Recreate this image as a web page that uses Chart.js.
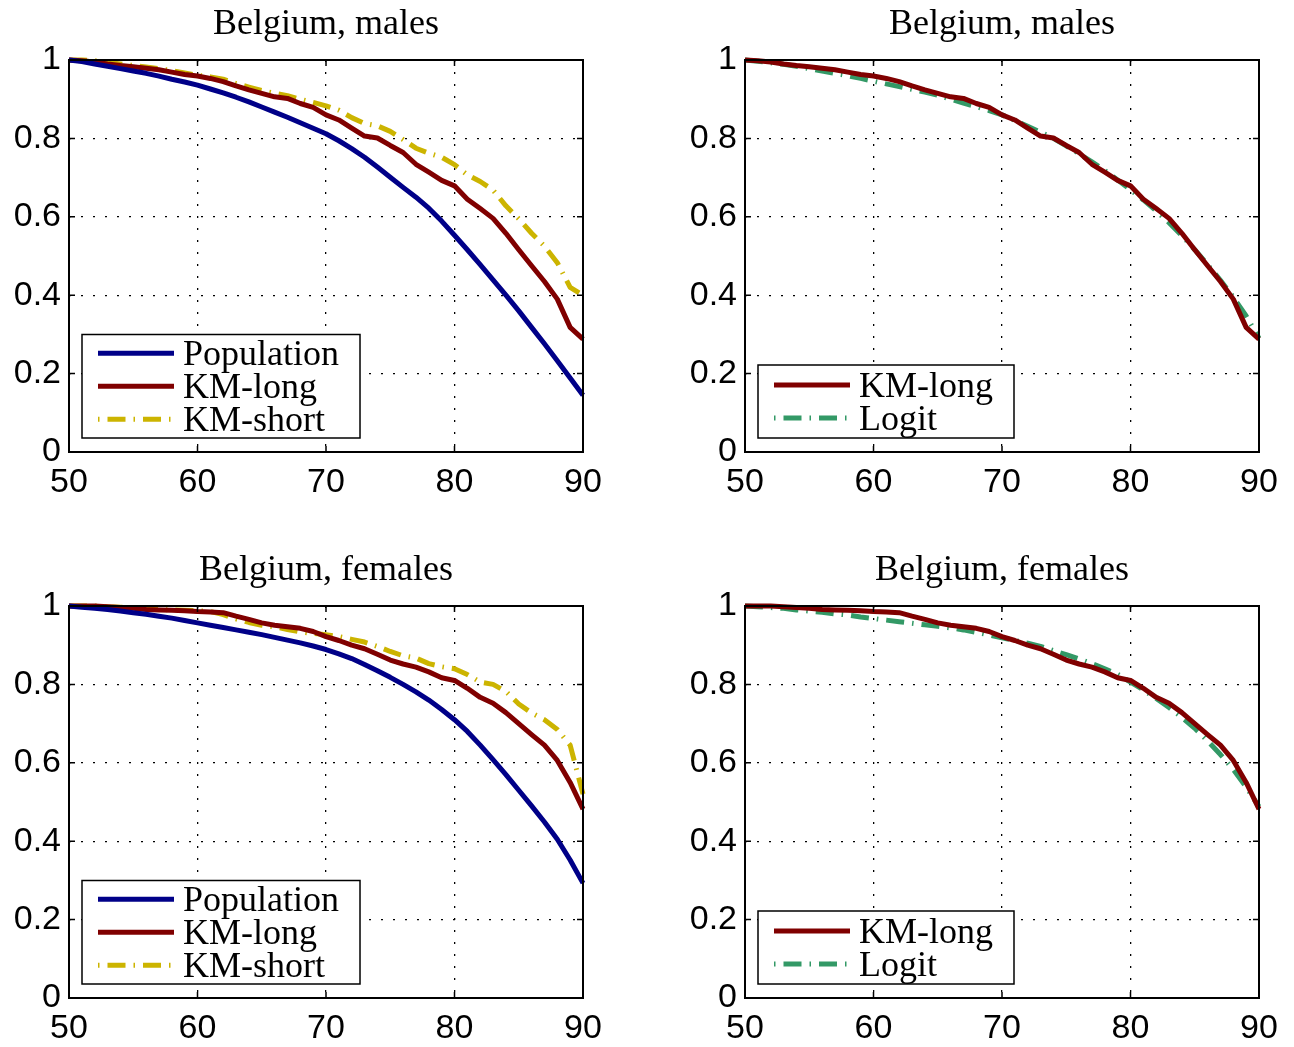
<!DOCTYPE html>
<html>
<head>
<meta charset="utf-8">
<script src="https://cdn.jsdelivr.net/npm/chart.js@4.4.1/dist/chart.umd.min.js"></script>
<style>
  html, body { margin: 0; padding: 0; background: #fff; overflow: hidden; }
  canvas { position: absolute; }
</style>
</head>
<body>
<canvas id="maleKM" width="647" height="500" style="left:0;top:0"></canvas>
<canvas id="maleLogit" width="618" height="500" style="left:676px;top:0"></canvas>
<canvas id="femaleKM" width="647" height="500" style="left:0;top:546px"></canvas>
<canvas id="femaleLogit" width="618" height="500" style="left:676px;top:546px"></canvas>
<script>
// ages 50..90, one value per year
const ages = [50, 51, 52, 53, 54, 55, 56, 57, 58, 59, 60, 61, 62, 63, 64, 65, 66, 67, 68, 69, 70,
              71, 72, 73, 74, 75, 76, 77, 78, 79, 80, 81, 82, 83, 84, 85, 86, 87, 88, 89, 90];

const xTicks = [50, 60, 70, 80, 90];
const yTicks = [0, 0.2, 0.4, 0.6, 0.8, 1];

// males
const popMale = [1.0, 0.996, 0.99, 0.984, 0.978, 0.972, 0.966, 0.959, 0.951, 0.944, 0.936,
                 0.926, 0.916, 0.905, 0.893, 0.88, 0.867, 0.854, 0.84, 0.826, 0.812,
                 0.794, 0.774, 0.752, 0.727, 0.701, 0.675, 0.65, 0.622, 0.589, 0.553,
                 0.516, 0.478, 0.439, 0.40, 0.36, 0.318, 0.276, 0.233, 0.189, 0.145];
const kmLongMale = [1.0, 0.998, 0.995, 0.99, 0.986, 0.983, 0.979, 0.975, 0.969, 0.963, 0.959,
                    0.953, 0.945, 0.934, 0.924, 0.915, 0.906, 0.902, 0.889, 0.879, 0.86,
                    0.847, 0.826, 0.806, 0.801, 0.782, 0.764, 0.734, 0.714, 0.693, 0.679,
                    0.645, 0.621, 0.596, 0.558, 0.516, 0.475, 0.435, 0.39, 0.318, 0.288];
const kmShortMale = [1.0, 1.0, 0.998, 0.994, 0.99, 0.986, 0.982, 0.978, 0.973, 0.967, 0.961,
                     0.957, 0.951, 0.94, 0.931, 0.922, 0.915, 0.909, 0.9, 0.892, 0.883,
                     0.872, 0.853, 0.838, 0.832, 0.818, 0.797, 0.775, 0.762, 0.752, 0.733,
                     0.707, 0.69, 0.668, 0.628, 0.595, 0.558, 0.525, 0.483, 0.42, 0.40];
const logitMale = [1.0, 0.997, 0.993, 0.989, 0.984, 0.978, 0.972, 0.966, 0.96, 0.953, 0.946,
                   0.939, 0.932, 0.925, 0.918, 0.91, 0.9, 0.89, 0.881, 0.871, 0.86,
                   0.846, 0.831, 0.816, 0.80, 0.781, 0.761, 0.74, 0.718, 0.694, 0.669,
                   0.643, 0.615, 0.585, 0.552, 0.516, 0.478, 0.438, 0.395, 0.347, 0.29];

// females
const popFemale = [1.0, 0.997, 0.994, 0.991, 0.987, 0.983, 0.979, 0.974, 0.969, 0.963, 0.957,
                   0.951, 0.945, 0.939, 0.933, 0.927, 0.92, 0.913, 0.906, 0.898, 0.889,
                   0.878, 0.866, 0.851, 0.835, 0.818, 0.8, 0.781, 0.76, 0.736, 0.71,
                   0.68, 0.645, 0.608, 0.57, 0.53, 0.49, 0.449, 0.405, 0.352, 0.293];
const kmLongFemale = [1.0, 1.0, 1.0, 0.998, 0.996, 0.994, 0.991, 0.99, 0.989, 0.988, 0.986,
                      0.985, 0.983, 0.974, 0.966, 0.957, 0.951, 0.947, 0.943, 0.935, 0.922,
                      0.912, 0.9, 0.891, 0.877, 0.862, 0.852, 0.844, 0.832, 0.817, 0.81,
                      0.79, 0.767, 0.752, 0.728, 0.7, 0.672, 0.645, 0.606, 0.55, 0.482];
const kmShortFemale = [1.0, 1.0, 1.0, 0.998, 0.997, 0.996, 0.993, 0.991, 0.99, 0.989, 0.988,
                       0.986, 0.978, 0.967, 0.958, 0.951, 0.947, 0.94, 0.934, 0.93, 0.927,
                       0.922, 0.915, 0.908, 0.897, 0.884, 0.873, 0.867, 0.853, 0.845, 0.84,
                       0.825, 0.806, 0.8, 0.782, 0.75, 0.727, 0.71, 0.685, 0.645, 0.52];
const logitFemale = [1.0, 0.998, 0.996, 0.994, 0.99, 0.987, 0.984, 0.98, 0.977, 0.972, 0.968,
                     0.964, 0.96, 0.956, 0.952, 0.948, 0.944, 0.939, 0.933, 0.926, 0.919,
                     0.912, 0.905, 0.897, 0.886, 0.876, 0.865, 0.853, 0.84, 0.826, 0.806,
                     0.786, 0.764, 0.741, 0.716, 0.688, 0.656, 0.621, 0.583, 0.538, 0.488];

const SERIF = '"Liberation Serif", "Times New Roman", serif';
const SANS = '"Liberation Sans", Arial, sans-serif';

const BLUE = '#000088';
const RED = '#800000';
const YELLOW = '#CCB400';
const GREEN = '#339966';
const DASHDOT = [18, 8, 1.5, 8];

function pts(vals) {
  return ages.map((a, i) => ({ x: a, y: vals[i] }));
}

function series(label, vals, color, dash) {
  return {
    label,
    data: pts(vals),
    borderColor: color,
    borderWidth: 5,
    borderDash: dash || [],
    borderCapStyle: 'butt',
    borderJoinStyle: 'round',
    pointRadius: 0,
    tension: 0,
    fill: false,
    clip: 8,
  };
}

// matlab style box: solid frame with small inward ticks on all four sides
const axesFrame = {
  id: 'axesFrame',
  afterDatasetsDraw(chart) {
    const { ctx, chartArea: a, scales: { x, y } } = chart;
    ctx.save();
    ctx.setLineDash([]);
    ctx.strokeStyle = '#000';
    ctx.lineWidth = 1.5;
    ctx.beginPath();
    x.ticks.forEach(t => {
      const px = x.getPixelForValue(t.value);
      ctx.moveTo(px, a.bottom); ctx.lineTo(px, a.bottom - 6);
      ctx.moveTo(px, a.top); ctx.lineTo(px, a.top + 6);
    });
    y.ticks.forEach(t => {
      const py = y.getPixelForValue(t.value);
      ctx.moveTo(a.left, py); ctx.lineTo(a.left + 6, py);
      ctx.moveTo(a.right, py); ctx.lineTo(a.right - 6, py);
    });
    ctx.stroke();
    ctx.lineWidth = 2;
    ctx.strokeRect(a.left, a.top, a.right - a.left, a.bottom - a.top);
    ctx.restore();
  }
};

// boxed legend in the lower left corner of the plot area
const boxLegend = {
  id: 'boxLegend',
  afterDraw(chart) {
    const { ctx, chartArea: a } = chart;
    const sets = chart.data.datasets;
    const rowH = 33;
    ctx.save();
    ctx.font = '36px ' + SERIF;
    const textW = Math.max(...sets.map(d => ctx.measureText(d.label).width));
    const w = 100 + textW + 22;
    const h = 12 + sets.length * 30.5;
    const left = a.left + 13, top = a.bottom - 14 - h;
    ctx.fillStyle = '#fff';
    ctx.fillRect(left, top, w, h);
    ctx.lineWidth = 1.5;
    ctx.strokeStyle = '#000';
    ctx.strokeRect(left, top, w, h);
    const y0 = top + (h - (sets.length - 1) * rowH) / 2;
    sets.forEach((d, i) => {
      const yy = y0 + i * rowH;
      ctx.beginPath();
      ctx.setLineDash(d.borderDash);
      ctx.lineDashOffset = d.borderDash.length ? 26 : 0;
      ctx.strokeStyle = d.borderColor;
      ctx.lineWidth = d.borderWidth;
      ctx.lineCap = 'butt';
      ctx.moveTo(left + 16, yy);
      ctx.lineTo(left + 92, yy);
      ctx.stroke();
      ctx.setLineDash([]);
      ctx.fillStyle = '#000';
      ctx.textAlign = 'left';
      ctx.textBaseline = 'alphabetic';
      ctx.fillText(d.label, left + 101, yy + 11.5);
    });
    ctx.restore();
  }
};

function makeChart(id, title, datasets, rightPad) {
  const tickFont = { family: SANS, size: 34 };
  return new Chart(document.getElementById(id), {
    type: 'line',
    data: { datasets },
    options: {
      responsive: false,
      animation: false,
      devicePixelRatio: 1,
      layout: { padding: { left: 0, right: rightPad, top: 0, bottom: 0 } },
      plugins: {
        legend: { display: false },
        tooltip: { enabled: false },
        title: {
          display: true,
          text: title,
          color: '#000',
          fullSize: false,
          font: { family: SERIF, size: 36, weight: 'normal' },
          padding: { top: 3, bottom: 13.8 },
        },
      },
      scales: {
        x: {
          type: 'linear',
          min: xTicks[0],
          max: xTicks[xTicks.length - 1],
          afterBuildTicks: s => { s.ticks = xTicks.map(v => ({ value: v })); },
          ticks: { color: '#000', font: tickFont, padding: 10, maxRotation: 0, callback: v => String(v) },
          grid: { color: '#000', lineWidth: 1.3, drawTicks: false },
          border: { display: false, dash: [2, 10] },
          afterFit: s => { s.height = 48; },
        },
        y: {
          type: 'linear',
          min: yTicks[0],
          max: yTicks[yTicks.length - 1],
          afterBuildTicks: s => { s.ticks = yTicks.map(v => ({ value: v })); },
          ticks: { color: '#000', font: tickFont, padding: 8, callback: v => String(v) },
          grid: { color: '#000', lineWidth: 1.3, drawTicks: false },
          border: { display: false, dash: [2, 10] },
          afterFit: s => { s.width = 69; },
        },
      },
    },
    plugins: [axesFrame, boxLegend],
  });
}

makeChart('maleKM', 'Belgium, males', [
  series('Population', popMale, BLUE),
  series('KM-long', kmLongMale, RED),
  series('KM-short', kmShortMale, YELLOW, DASHDOT),
], 64);

makeChart('maleLogit', 'Belgium, males', [
  series('KM-long', kmLongMale, RED),
  series('Logit', logitMale, GREEN, DASHDOT),
], 35);

makeChart('femaleKM', 'Belgium, females', [
  series('Population', popFemale, BLUE),
  series('KM-long', kmLongFemale, RED),
  series('KM-short', kmShortFemale, YELLOW, DASHDOT),
], 64);

makeChart('femaleLogit', 'Belgium, females', [
  series('KM-long', kmLongFemale, RED),
  series('Logit', logitFemale, GREEN, DASHDOT),
], 35);
</script>
</body>
</html>
